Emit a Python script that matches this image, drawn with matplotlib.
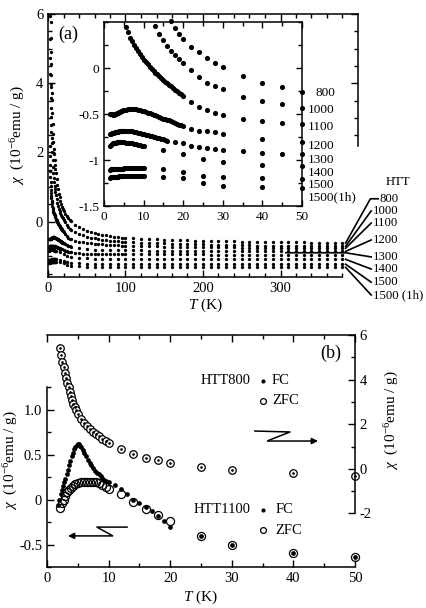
#!/usr/bin/env python3
"""
Magnetic susceptibility of heat-treated samples.

(a) chi(T) for every heat-treatment temperature (HTT), with a low-T inset.
(b) FC / ZFC susceptibility of HTT800 (right axis) and HTT1100 (left axis).
"""

import numpy as np
import matplotlib
matplotlib.use("Agg")
import matplotlib.pyplot as plt
from matplotlib.ticker import FixedLocator, MultipleLocator, FuncFormatter

nan = float("nan")

W, H = 426, 608  # figure size in pixels (dpi 100)

# ------------------------------------------------------------------ panel (a)
HTT_LABELS = ["800", "1000", "1100", "1200", "1300", "1400", "1500", "1500 (1h)"]
INSET_LABELS = ["800", "1000", "1100", "1200", "1300", "1400", "1500", "1500(1h)"]

# temperature grids (K); nan in a value list = no measurement at that T
T_LOW = [1.5, 1.75, 2, 2.25, 2.5, 2.75, 3, 3.25, 3.5, 3.75, 4, 4.25, 4.5, 4.75, 5,
         5.5, 6, 6.5, 7, 7.5, 8, 8.5, 9, 9.5, 10,
         10.5, 11, 11.5, 12, 12.5, 13, 13.5, 14, 14.5, 15,
         15.5, 16, 16.5, 17, 17.5, 18, 18.5, 19, 19.5, 20]
T_MID = [22, 24, 25, 26, 28, 30, 35, 40, 45, 50, 55, 60, 65, 70, 75, 80, 85, 90, 95, 100]
T_HIGH = [110, 120, 130, 140, 150, 160, 170, 180, 190, 200, 210, 220, 230, 240,
          250, 260, 270, 280, 290, 300, 310, 320, 330, 340, 350, 360, 370, 380]

# chi in 10^-6 emu/g
CHI_LOW_800 = [nan, nan, 9.8, 8.6, 7.7, 6.95, 6.3, 5.77, 5.31, 4.91, 4.56, 4.25, 3.98, 3.73, 3.51,
               3.13, 2.81, 2.54, 2.31, 2.11, 1.94, 1.78, 1.64, 1.52, 1.41,
               nan, 1.22, nan, 1.06, nan, 0.93, nan, 0.81, nan, 0.70,
               nan, 0.60, nan, 0.51, nan, 0.43, nan, 0.37, nan, 0.32]
CHI_MID_800 = [0.23, 0.17, nan, 0.11, 0.05, 0.01, -0.09, -0.16, -0.21, -0.26,
               -0.30, -0.33, -0.36, -0.38, -0.40, -0.42, -0.43, -0.45, -0.46, -0.47]
CHI_HIGH_800 = [-0.48, -0.49, -0.50, -0.51, -0.52, -0.53, -0.53, -0.54, -0.55, -0.55,
                -0.56, -0.56, -0.57, -0.57, -0.58, -0.58, -0.58, -0.59, -0.59, -0.59,
                -0.60, -0.60, -0.60, -0.61, -0.61, -0.61, -0.61, -0.62]

CHI_LOW_1000 = [nan, nan, 6.77, 5.94, 5.27, 4.72, 4.27, 3.89, 3.56, 3.27, 3.02, 2.80, 2.60, 2.43, 2.27,
                2.00, 1.77, 1.58, 1.41, 1.27, 1.15, 1.03, 0.94, 0.85, 0.77,
                nan, 0.65, nan, 0.55, nan, 0.46, nan, 0.37, nan, 0.30,
                nan, 0.24, nan, 0.18, nan, 0.14, nan, 0.10, nan, 0.05]
CHI_MID_1000 = [-0.02, -0.10, nan, -0.16, -0.20, -0.23, -0.31, -0.36, -0.39, -0.43,
                -0.46, -0.48, -0.50, -0.52, -0.53, -0.55, -0.56, -0.57, -0.58, -0.59]
CHI_HIGH_1000 = [-0.60, -0.61, -0.62, -0.63, -0.63, -0.64, -0.65, -0.65, -0.66, -0.66,
                 -0.67, -0.67, -0.67, -0.68, -0.68, -0.68, -0.69, -0.69, -0.69, -0.69,
                 -0.70, -0.70, -0.70, -0.70, -0.70, -0.71, -0.71, -0.71]

CHI_LOW_1100 = [nan, nan, 2.2, 1.9, 1.65, 1.45, 1.28, 1.14, 1.02, 0.91, 0.82, 0.74, 0.67, 0.60, 0.54,
                0.45, 0.39, 0.33, 0.29, 0.25, 0.22, 0.19, 0.15, 0.12, 0.09,
                0.06, 0.04, 0.01, -0.01, -0.03, -0.05, -0.07, -0.09, -0.11, -0.13,
                -0.15, -0.16, -0.18, -0.20, -0.22, -0.24, -0.25, -0.27, -0.28, -0.30]
CHI_MID_1100 = [-0.37, -0.42, nan, -0.46, -0.49, -0.51, -0.55, -0.58, -0.60, -0.61,
                -0.63, -0.64, -0.65, -0.66, -0.67, -0.67, -0.68, -0.68, -0.69, -0.69]
CHI_HIGH_1100 = [-0.70, -0.70, -0.71, -0.71, -0.72, -0.72, -0.72, -0.73, -0.73, -0.73,
                 -0.74, -0.74, -0.74, -0.74, -0.75, -0.75, -0.75, -0.75, -0.75, -0.76,
                 -0.76, -0.76, -0.76, -0.76, -0.77, -0.77, -0.77, -0.77]

CHI_LOW_1200 = [-0.50, -0.50, -0.50, -0.51, -0.51, -0.50, -0.50, -0.49, -0.49, -0.48, -0.48, -0.47, -0.47, -0.46, -0.46,
                -0.46, -0.45, -0.45, -0.45, -0.45, -0.45, -0.46, -0.46, -0.47, -0.47,
                -0.48, -0.49, -0.49, -0.50, -0.51, -0.51, -0.52, -0.53, -0.54, -0.55,
                -0.55, -0.56, -0.57, -0.58, -0.59, -0.60, -0.61, -0.62, -0.62, -0.63]
CHI_MID_1200 = [-0.66, -0.68, nan, -0.69, -0.70, -0.72, nan, -0.77, nan, -0.80,
                nan, -0.81, nan, -0.82, nan, -0.82, nan, -0.83, nan, -0.83]
CHI_HIGH_1200 = [-0.83, -0.83, -0.84, -0.84, -0.84, -0.84, -0.84, -0.85, -0.85, -0.85,
                 -0.85, -0.85, -0.85, -0.85, -0.85, -0.86, -0.86, -0.86, -0.86, -0.86,
                 -0.86, -0.86, -0.86, -0.86, -0.86, -0.86, -0.86, -0.86]

CHI_LOW_1300 = [-0.72, -0.72, -0.71, -0.71, -0.71, -0.70, -0.70, -0.70, -0.70, -0.69, -0.69, -0.69, -0.69, -0.69, -0.69,
                -0.69, -0.69, -0.69, -0.69, -0.70, -0.70, -0.71, -0.71, -0.72, -0.72,
                -0.73, -0.73, -0.74, -0.74, -0.75, -0.75, -0.76, -0.76, -0.77, -0.77,
                -0.78, -0.79, nan, nan, nan, -0.80, nan, nan, nan, -0.82]
CHI_MID_1300 = [-0.85, -0.86, nan, -0.87, -0.88, -0.89, -0.90, -0.92, -0.93, -0.93,
                -0.93, -0.93, -0.94, -0.94, -0.94, -0.94, -0.94, -0.94, -0.94, -0.94]
CHI_HIGH_1300 = [-0.94, -0.94, -0.94, -0.94, -0.94, -0.94, -0.94, -0.94, -0.94, -0.94,
                 -0.95, -0.95, -0.95, -0.95, -0.95, -0.95, -0.95, -0.95, -0.95, -0.95,
                 -0.95, -0.95, -0.95, -0.95, -0.95, -0.95, -0.95, -0.95]

CHI_LOW_1400 = [-0.85, -0.84, -0.83, -0.82, -0.82, -0.81, -0.81, -0.80, -0.80, -0.80, -0.80, -0.80, -0.80, -0.80, -0.80,
                -0.81, -0.81, -0.82, -0.82, -0.83, -0.83, -0.84, -0.84, -0.85, -0.85,
                nan, nan, nan, nan, nan, nan, nan, nan, nan, -0.89,
                nan, nan, nan, nan, nan, nan, nan, nan, nan, -0.94]
CHI_MID_1400 = [nan, nan, -0.99, nan, nan, -1.02, nan, -1.05, nan, -1.06,
                nan, -1.07, nan, -1.07, nan, -1.08, nan, -1.08, nan, -1.08]
CHI_HIGH_1400 = [-1.08, -1.08, -1.08, -1.08, -1.08, -1.08, -1.08, -1.08, -1.08, -1.08,
                 -1.08, -1.08, -1.09, -1.09, -1.09, -1.09, -1.09, -1.09, -1.09, -1.09,
                 -1.09, -1.09, -1.09, -1.09, -1.09, -1.09, -1.09, -1.09]

CHI_LOW_1500 = [-1.11, -1.10, -1.10, -1.10, -1.10, -1.10, -1.10, -1.10, -1.10, -1.10, -1.10, -1.10, -1.10, -1.10, -1.09,
                -1.09, -1.09, -1.09, -1.09, -1.09, -1.09, -1.09, -1.09, -1.09, -1.09,
                nan, nan, nan, nan, nan, nan, nan, nan, nan, -1.10,
                nan, nan, nan, nan, nan, nan, nan, nan, nan, -1.13]
CHI_MID_1500 = [nan, nan, -1.17, nan, nan, -1.19, nan, -1.20, nan, -1.21,
                nan, -1.21, nan, -1.22, nan, -1.22, nan, -1.22, nan, -1.22]
CHI_HIGH_1500 = [-1.22, -1.22, -1.22, -1.22, -1.22, -1.22, -1.22, -1.22, -1.22, -1.22,
                 -1.22, -1.22, -1.22, -1.22, -1.23, -1.23, -1.23, -1.23, -1.23, -1.23,
                 -1.23, -1.23, -1.23, -1.23, -1.23, -1.23, -1.23, -1.23]

CHI_LOW_1500H = [-1.20, -1.19, -1.19, -1.18, -1.18, -1.18, -1.18, -1.18, -1.18, -1.17, -1.17, -1.17, -1.17, -1.17, -1.17,
                 -1.17, -1.17, -1.17, -1.17, -1.17, -1.17, -1.17, -1.17, -1.17, -1.17,
                 nan, nan, nan, nan, nan, nan, nan, nan, nan, -1.18,
                 nan, nan, nan, nan, nan, nan, nan, nan, nan, -1.20]
CHI_MID_1500H = [nan, nan, -1.25, nan, nan, -1.28, nan, -1.29, nan, -1.30,
                 nan, -1.30, nan, -1.31, nan, -1.31, nan, -1.31, nan, -1.31]
CHI_HIGH_1500H = [-1.31, -1.31, -1.31, -1.31, -1.31, -1.31, -1.31, -1.31, -1.31, -1.31,
                  -1.31, -1.31, -1.31, -1.31, -1.32, -1.32, -1.32, -1.32, -1.32, -1.32,
                  -1.32, -1.32, -1.32, -1.32, -1.32, -1.32, -1.32, -1.32]

SERIES_A = [
    (CHI_LOW_800, CHI_MID_800, CHI_HIGH_800),
    (CHI_LOW_1000, CHI_MID_1000, CHI_HIGH_1000),
    (CHI_LOW_1100, CHI_MID_1100, CHI_HIGH_1100),
    (CHI_LOW_1200, CHI_MID_1200, CHI_HIGH_1200),
    (CHI_LOW_1300, CHI_MID_1300, CHI_HIGH_1300),
    (CHI_LOW_1400, CHI_MID_1400, CHI_HIGH_1400),
    (CHI_LOW_1500, CHI_MID_1500, CHI_HIGH_1500),
    (CHI_LOW_1500H, CHI_MID_1500H, CHI_HIGH_1500H),
]

# ------------------------------------------------------------------ panel (b)
# HTT800, right axis (FC and ZFC coincide)
T_800 = [2.1, 2.3, 2.5, 2.7, 2.9, 3.1, 3.3, 3.5, 3.7, 3.9, 4.1, 4.3, 4.5, 4.75, 5.0,
         5.5, 6, 6.5, 7, 7.5, 8, 8.5, 9, 9.5, 10, 12, 14, 16, 18, 20, 25, 30, 40, 50]
CHI_800_FC = [5.4, 5.1, 4.8, 4.55, 4.3, 4.08, 3.87, 3.66, 3.45, 3.26, 3.08, 2.92, 2.78, 2.62, 2.48,
              2.25, 2.05, 1.9, 1.78, 1.66, 1.56, 1.46, 1.36, 1.26, 1.15,
              0.9, 0.68, 0.5, 0.38, 0.25, 0.08, -0.04, -0.2, -0.31]
CHI_800_ZFC = CHI_800_FC

# HTT1100, left axis
T_1100_FC = [1.8, 2.0, 2.2, 2.4, 2.6, 2.8, 3.0, 3.2, 3.4, 3.6, 3.8, 4.0, 4.2, 4.4, 4.6, 4.8,
             5.0, 5.2, 5.4, 5.6, 5.8, 6.0, 6.3, 6.6, 6.9, 7.2, 7.5, 7.8, 8.1, 8.4, 8.7,
             9.0, 9.3, 9.6, 10, 11, 12, 13, 14, 15, 16, 17, 18, 19, 20, 25, 30, 40, 50]
CHI_1100_FC = [-0.06, 0.0, 0.06, 0.11, 0.15, 0.19, 0.23, 0.28, 0.33, 0.38, 0.43, 0.48, 0.52, 0.56, 0.59, 0.61,
               0.62, 0.62, 0.60, 0.58, 0.55, 0.52, 0.48, 0.44, 0.41, 0.38, 0.35, 0.32, 0.30, 0.28, 0.26,
               0.24, 0.22, 0.21, 0.19, 0.16, 0.12, 0.06, 0.0, -0.04, -0.08, -0.13, -0.18, -0.24, -0.30,
               -0.41, -0.50, -0.59, -0.64]
T_1100_ZFC = [2.1, 2.4, 2.7, 3.0, 3.3, 3.6, 3.9, 4.2, 4.6, 5.0, 5.5, 6.0, 6.5, 7.0, 7.5,
              8.0, 8.5, 9.0, 9.5, 10, 12, 14, 16, 18, 20, 25, 30, 40, 50]
CHI_1100_ZFC = [-0.09, -0.04, 0.0, 0.04, 0.08, 0.11, 0.13, 0.15, 0.17, 0.18, 0.19, 0.2, 0.2, 0.2, 0.2,
                0.19, 0.18, 0.16, 0.14, 0.12, 0.06, -0.03, -0.10, -0.17, -0.24, -0.41, -0.50, -0.59, -0.64]


def setup_style():
    """Times-like serif text, inward ticks"""
    plt.rcParams.update({
        "font.family": ["Liberation Serif", "DejaVu Serif"],
        "mathtext.fontset": "custom",
        "mathtext.rm": "Liberation Serif",
        "mathtext.it": "Liberation Serif:italic",
        "axes.unicode_minus": False,
        "axes.linewidth": 1.1,
        "xtick.direction": "in",
        "ytick.direction": "in",
        "xtick.major.width": 1.0,
        "ytick.major.width": 1.0,
        "xtick.minor.width": 1.0,
        "ytick.minor.width": 1.0,
        "xtick.major.size": 5,
        "ytick.major.size": 5,
        "xtick.minor.size": 3,
        "ytick.minor.size": 3,
    })


def fmt_g(v, pos):
    return f"{v:g}"


def draw_panel_a(fig):
    """Main chi(T) panel, inset and HTT leader labels"""
    ax = fig.add_axes([48 / W, 1 - 277 / H, 310 / W, 263 / H])
    t_all = np.array(T_LOW + T_MID + T_HIGH)
    for low, mid, high in SERIES_A:
        assert len(low) == len(T_LOW) and len(mid) == len(T_MID) and len(high) == len(T_HIGH)
        chi = np.array(low + mid + high)
        ax.plot(t_all, chi, "o", color="k", ms=2.4, mew=0)

    ax.set_xlim(0, 400)
    ax.set_ylim(-1.6, 6)
    ax.spines["right"].set_visible(False)
    ax.spines["bottom"].set_bounds(0, 380)
    ax.xaxis.set_major_locator(FixedLocator([0, 100, 200, 300]))
    ax.xaxis.set_minor_locator(FixedLocator([t for t in range(20, 381, 20) if t % 100]))
    ax.yaxis.set_major_locator(MultipleLocator(2))
    ax.yaxis.set_minor_locator(MultipleLocator(0.5))
    ax.yaxis.set_major_formatter(FuncFormatter(fmt_g))
    ax.tick_params(which="both", top=True, right=False, labelsize=10.5)

    # short right frame at the top only
    rt = ax.twinx()
    rt.set_ylim(ax.get_ylim())
    for side in ("left", "top", "bottom"):
        rt.spines[side].set_visible(False)
    rt.spines["right"].set_bounds(2.2, 6)
    rt.yaxis.set_major_locator(FixedLocator([4, 6]))
    rt.yaxis.set_minor_locator(FixedLocator([2.5, 3, 3.5, 4.5, 5, 5.5]))
    rt.tick_params(which="both", labelright=False)

    ax.text(0.065, 0.924, "(a)", transform=ax.transAxes, fontsize=13,
            ha="center", va="center")

    # leader lines from the high-T ends to the HTT labels
    label_y = [0.66, 0.31, -0.04, -0.53, -1.02, -1.37, -1.75, -2.12]
    for i, (name, (low, mid, high)) in enumerate(zip(HTT_LABELS, SERIES_A)):
        y0 = high[-1]
        if i == 0:
            xs, ys = [384, 416, 426], [y0, label_y[i], label_y[i]]
            xt = 428
        elif name == "1300":
            xs, ys = [307, 384, 417], [-0.90, -0.90, label_y[i]]
            xt = 419
        else:
            xs, ys = [384, 417], [y0, label_y[i]]
            xt = 419
        ax.plot(xs, ys, color="k", lw=1.2, clip_on=False)
        ax.text(xt, label_y[i], name, fontsize=9.2, ha="left", va="center",
                clip_on=False)
    ax.text(452, 1.14, "HTT", fontsize=9.2, ha="center", va="center", clip_on=False)

    # inset: low temperature part, only T <= 50 K
    axin = fig.add_axes([104 / W, 1 - 206 / H, 198 / W, 184 / H])
    t_in = np.array(T_LOW + T_MID)
    for low, mid, high in SERIES_A:
        chi = np.array(low + mid)
        keep = (chi <= 0.52) & (t_in <= 50)
        axin.plot(t_in[keep], chi[keep], "o", color="k", ms=3.7, mew=0, clip_on=False)
    axin.set_xlim(0, 50)
    axin.set_ylim(-1.5, 0.5)
    axin.xaxis.set_major_locator(MultipleLocator(10))
    axin.xaxis.set_minor_locator(MultipleLocator(5))
    axin.yaxis.set_major_locator(FixedLocator([-1.5, -1, -0.5, 0]))
    axin.yaxis.set_minor_locator(MultipleLocator(0.25))
    axin.yaxis.set_major_formatter(FuncFormatter(fmt_g))
    axin.tick_params(which="both", top=True, right=True, labelsize=9.5)
    axin.tick_params(which="major", length=4.5)
    axin.tick_params(which="minor", length=2.8)

    inset_y = [-0.27, -0.46, -0.64, -0.85, -1.0, -1.14, -1.27, -1.41]
    for name, y in zip(INSET_LABELS, inset_y):
        x = 53.3 if name == "800" else 51.5
        axin.text(x, y, name, fontsize=9.5, ha="left", va="center", clip_on=False)

    fig.text(205 / W, 1 - 305 / H, "$T$ (K)", fontsize=11, ha="center", va="center")
    fig.text(18 / W, 1 - 135 / H, r"$\chi$  (10$^{-6}$emu / g)", fontsize=11,
             rotation=90, ha="center", va="center")


def zigzag_arrow(ax, pts, tail, head):
    """Draw a Z shaped connector ending in an arrow (axes fraction coords)"""
    xs, ys = zip(*pts)
    ax.plot(xs, ys, color="k", lw=1.1, transform=ax.transAxes, clip_on=False)
    ax.annotate("", xy=head, xytext=tail, xycoords="axes fraction",
                textcoords="axes fraction",
                arrowprops=dict(arrowstyle="-|>", color="k", lw=1.1,
                                mutation_scale=9, shrinkA=0, shrinkB=0))


def draw_panel_b(fig):
    """FC/ZFC panel with two y axes"""
    ax = fig.add_axes([47 / W, 1 - 567 / H, 308 / W, 232 / H])
    axr = ax.twinx()

    ax.plot(T_1100_ZFC, CHI_1100_ZFC, "o", ms=5.8, mfc="none", mec="k", mew=0.9,
            clip_on=False)
    ax.plot(T_1100_FC, CHI_1100_FC, "o", ms=3.4, color="k", mew=0, clip_on=False)
    axr.plot(T_800, CHI_800_ZFC, "o", ms=5.4, mfc="white", mec="k", mew=0.9,
             clip_on=False)
    axr.plot(T_800, CHI_800_FC, "o", ms=1.9, color="k", mew=0, clip_on=False)

    ax.set_xlim(0, 50)
    ax.set_ylim(-0.75, 1.83)
    axr.set_ylim(-4.4, 6)

    ax.spines["right"].set_visible(False)
    ax.spines["left"].set_bounds(-0.75, 1.25)
    ax.xaxis.set_major_locator(MultipleLocator(10))
    ax.xaxis.set_minor_locator(MultipleLocator(5))
    ax.yaxis.set_major_locator(FixedLocator([-0.5, 0, 0.5, 1.0]))
    ax.yaxis.set_minor_locator(FixedLocator([-0.75, -0.25, 0.25, 0.75, 1.25]))
    ax.yaxis.set_major_formatter(
        FuncFormatter(lambda v, p: "0" if abs(v) < 1e-9 else f"{v:.1f}"))
    ax.tick_params(which="both", top=True, labelsize=10.5)

    for side in ("left", "top", "bottom"):
        axr.spines[side].set_visible(False)
    axr.spines["right"].set_bounds(-2, 6)
    axr.yaxis.set_major_locator(FixedLocator([-2, 0, 2, 4, 6]))
    axr.yaxis.set_minor_locator(FixedLocator([-1, 1, 3, 5]))
    axr.yaxis.set_major_formatter(FuncFormatter(fmt_g))
    axr.tick_params(which="both", labelsize=10.5)

    tr = ax.transAxes
    ax.text(0.922, 0.922, "(b)", transform=tr, fontsize=13, ha="center", va="center")

    # legend-like annotations
    for name, y_fc, y_zfc, dx in (("HTT800", 0.802, 0.716, 0.0),
                                  ("HTT1100", 0.246, 0.159, 0.012)):
        ax.text(0.662, y_fc, name, transform=tr, fontsize=10.5, ha="right", va="center")
        ax.plot([0.701], [y_fc], "o", ms=3.0, color="k", mew=0, transform=tr,
                clip_on=False)
        ax.plot([0.701], [y_zfc], "o", ms=4.2, mfc="none", mec="k", mew=0.9,
                transform=tr, clip_on=False)
        ax.text(0.73 + dx, y_fc, "FC", transform=tr, fontsize=10.5, ha="left", va="center")
        ax.text(0.73 + dx, y_zfc, "ZFC", transform=tr, fontsize=10.5, ha="left", va="center")

    # arrows pointing to the axis each set belongs to
    zigzag_arrow(ax, [(0.675, 0.586), (0.789, 0.582), (0.718, 0.545)],
                 tail=(0.716, 0.543), head=(0.880, 0.543))
    zigzag_arrow(ax, [(0.260, 0.172), (0.162, 0.172), (0.211, 0.136)],
                 tail=(0.213, 0.134), head=(0.068, 0.134))

    fig.text(200 / W, 1 - 597 / H, "$T$ (K)", fontsize=11, ha="center", va="center")
    fig.text(11 / W, 1 - 460 / H, r"$\chi$  (10$^{-6}$emu / g)", fontsize=11,
             rotation=90, ha="center", va="center")
    fig.text(392 / W, 1 - 420 / H, r"$\chi$  (10$^{-6}$emu / g)", fontsize=11,
             rotation=90, ha="center", va="center")


def main():
    setup_style()
    fig = plt.figure(figsize=(W / 100, H / 100), dpi=100)
    draw_panel_a(fig)
    draw_panel_b(fig)
    fig.savefig("out.png", dpi=100)
    plt.close(fig)


if __name__ == "__main__":
    main()
